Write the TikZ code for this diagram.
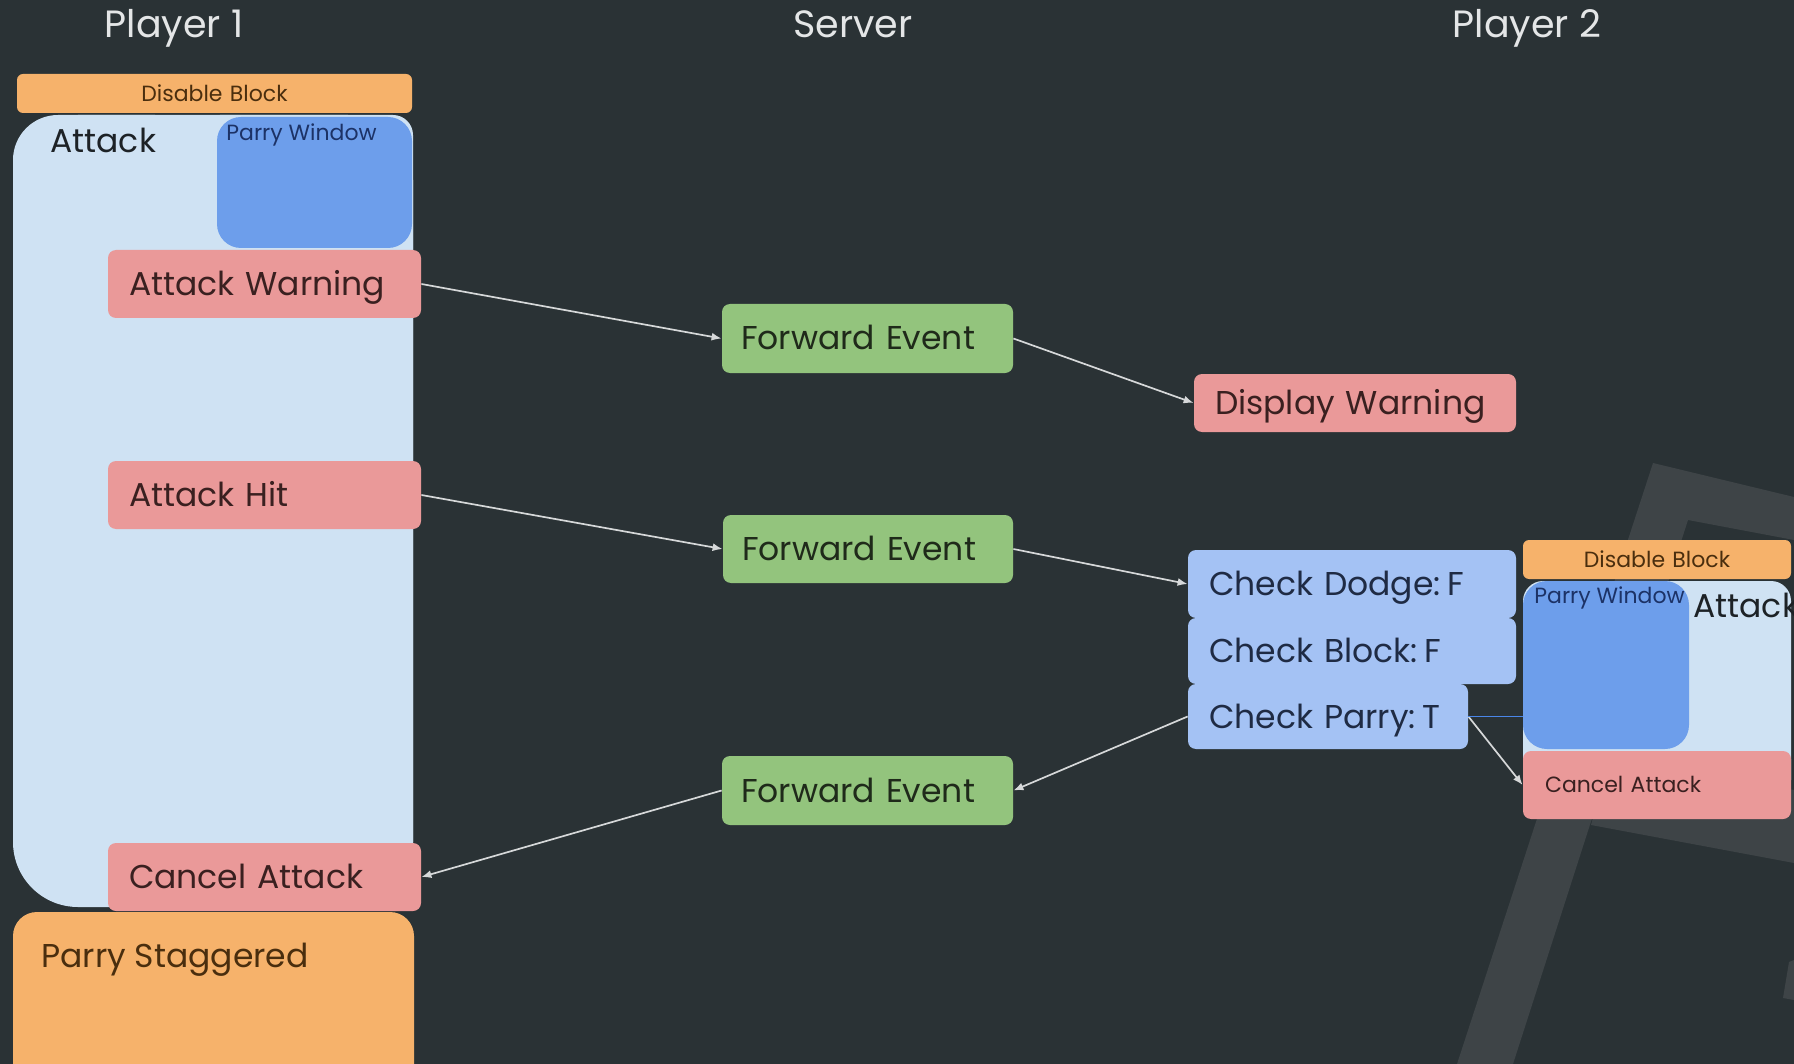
\documentclass[tikz,border=0pt]{standalone}
\usepackage{fontspec}
\setmainfont{Poppins}
\usetikzlibrary{arrows.meta}
\definecolor{bgc}{HTML}{2A3235}
\definecolor{bandc}{HTML}{3E4447}
\definecolor{titlec}{HTML}{E4E6E7}
\definecolor{orangec}{HTML}{F6B26B}
\definecolor{attackc}{HTML}{CFE2F3}
\definecolor{parryc}{HTML}{6D9EEB}
\definecolor{pinkc}{HTML}{EA9999}
\definecolor{greenc}{HTML}{93C47D}
\definecolor{checkc}{HTML}{A4C2F4}
\definecolor{pinktext}{HTML}{3A2020}
\definecolor{greentext}{HTML}{1F2A1A}
\definecolor{checktext}{HTML}{1F2B44}
\definecolor{parrytext}{HTML}{1C3266}
\definecolor{orangetext}{HTML}{4A2E0E}
\definecolor{darktext}{HTML}{1D2226}
\definecolor{linkc}{HTML}{D6D8D9}
\definecolor{bluelink}{HTML}{4A86E8}
\newcommand\mybox[8]{%
  \pgfmathsetmacro\mybw{(#5-#3)*0.5}%
  \pgfmathsetmacro\mybh{(#6-#4)*0.5}%
  \pgfmathsetmacro\mytw{(#5-#3-2*#7)*0.5}%
  \pgfmathsetmacro\mypd{#7*0.5}%
  \node[#2, minimum width=\mybw pt, minimum height=\mybh pt, text width=\mytw pt,
        inner xsep=\mypd pt, inner ysep=0pt] (#1) at ({(#3+#5)/2},{(#4+#6)/2}) {#8};}
\newcommand\cgap{\kern0.2em\relax}
\begin{document}
\begin{tikzpicture}[x=0.5pt,y=-0.5pt,
  bigfont/.style={font=\fontsize{16.5}{19}\selectfont},
  smallfont/.style={font=\fontsize{11}{13}\selectfont},
  bigbox/.style={bigfont, text height=11.5pt, text depth=0pt, align=left, rounded corners=4pt},
  pinkbox/.style={bigbox, fill=pinkc, text=pinktext},
  greenbox/.style={bigbox, fill=greenc, text=greentext},
  checkbox/.style={bigbox, fill=checkc, text=checktext},
  smallpink/.style={fill=pinkc, rounded corners=4pt, text=pinktext, align=left, smallfont, text height=7.8pt, text depth=0pt},
  disablebox/.style={fill=orangec, rounded corners=3pt, text=orangetext, align=center, smallfont, text height=7.8pt, text depth=0pt},
  title/.style={text=titlec, font=\fontsize{19}{22}\selectfont, anchor=base, inner sep=0pt},
  link/.style={draw=linkc, line width=0.85pt, -{Latex[length=5pt,width=4pt]}},
]
\useasboundingbox (0,0) rectangle (1794,1064);
\fill[bgc] (0,0) rectangle (1794,1064);

% background decoration
\fill[bandc] (1653,463) -- (1794,497) -- (1794,540) -- (1688,520) -- (1513,1064) -- (1457,1064) -- cycle;
\fill[bandc] (1610,755) -- (1794,790) -- (1794,863) -- (1591,825) -- cycle;
\fill[bandc] (1789,962) -- (1794,960) -- (1794,1000) -- (1783,998) -- cycle;

% titles
\node[title] (t1) at (174,38) {Player 1};
\node[title] (t2) at (853,38) {Server};
\node[title] (t3) at (1527,38) {Player 2};

% ---------- Player 1 ----------
\fill[attackc, rounded corners=32.5pt] (13,115) rectangle (413,907);
\fill[attackc, rounded corners=10pt] (200,115) rectangle (413,907);
\fill[attackc, rounded corners=22.5pt] (13,115) rectangle (200,500);
\fill[attackc] (13,300) rectangle (200,700);
\node[anchor=west, text=darktext, bigfont, inner sep=0pt] (atk1) at (50,140) {Attack};
\fill[parryc, rounded corners=12pt] (217,117) rectangle (412,248);
\node[anchor=west, text=parrytext, smallfont, inner sep=0pt] (pw1) at (226,135) {Parry Window};
\mybox{db1}{disablebox}{17}{74}{412}{113}{10}{Disable Block}
\mybox{aw}{pinkbox}{108}{250}{421}{318}{21}{Attack Warning}
\mybox{ah}{pinkbox}{108}{461}{421}{529}{21}{Attack Hit}
\mybox{ca1}{pinkbox}{108}{843}{421}{911}{21}{Cancel Attack}
\fill[orangec, rounded corners=12pt] (13,912) rectangle (414,1120);
\node[anchor=west, text=orangetext, bigfont, inner sep=0pt] (ps) at (41,960) {Parry Staggered};

% ---------- Server ----------
\mybox{fe1}{greenbox}{722}{304}{1013}{373}{19}{Forward Event}
\mybox{fe2}{greenbox}{723}{515}{1013}{583}{19}{Forward Event}
\mybox{fe3}{greenbox}{722}{756}{1013}{825}{19}{Forward Event}

% ---------- Player 2 ----------
\mybox{dw}{pinkbox}{1194}{374}{1516}{432}{21}{Display Warning}
\mybox{cd}{checkbox}{1188}{550}{1516}{618}{21}{Check Dodge:\cgap F}
\mybox{cb}{checkbox}{1188}{618}{1516}{684}{21}{Check Block:\cgap F}
\mybox{cp}{checkbox}{1188}{684}{1468}{749}{21}{Check Parry:\cgap T}

\fill[attackc, rounded corners=10pt] (1523,581) rectangle (1791,800);
\begin{scope}
\clip (0,0) rectangle (1794,1064);
\node[anchor=west, text=darktext, bigfont, inner sep=0pt] (atk2) at (1693,605) {Attack};
\end{scope}
\fill[parryc, rounded corners=12pt] (1523,581) rectangle (1689,749);
\coordinate (pw2w) at (1523,665);
\node[anchor=west, text=parrytext, smallfont, inner sep=0pt] (pw2) at (1534,598) {Parry Window};
\mybox{db2}{disablebox}{1523}{540}{1791}{579}{10}{Disable Block}
\mybox{ca2}{smallpink}{1523}{751}{1791}{819}{22}{Cancel Attack}

% ---------- connectors ----------
\draw[link] (aw.east) -- (fe1.west);
\draw[link] (fe1.east) -- (dw.west);
\draw[link] (ah.east) -- (fe2.west);
\draw[link] (fe2.east) -- (cd.west);
\draw[link] (cp.west) -- (fe3.east);
\draw[link] (fe3.west) -- (ca1.east);
\draw[link] (cp.east) -- (ca2.west);
\draw[bluelink, line width=0.6pt] (cp.east) -- (cp.east -| pw2w);
\end{tikzpicture}
\end{document}
